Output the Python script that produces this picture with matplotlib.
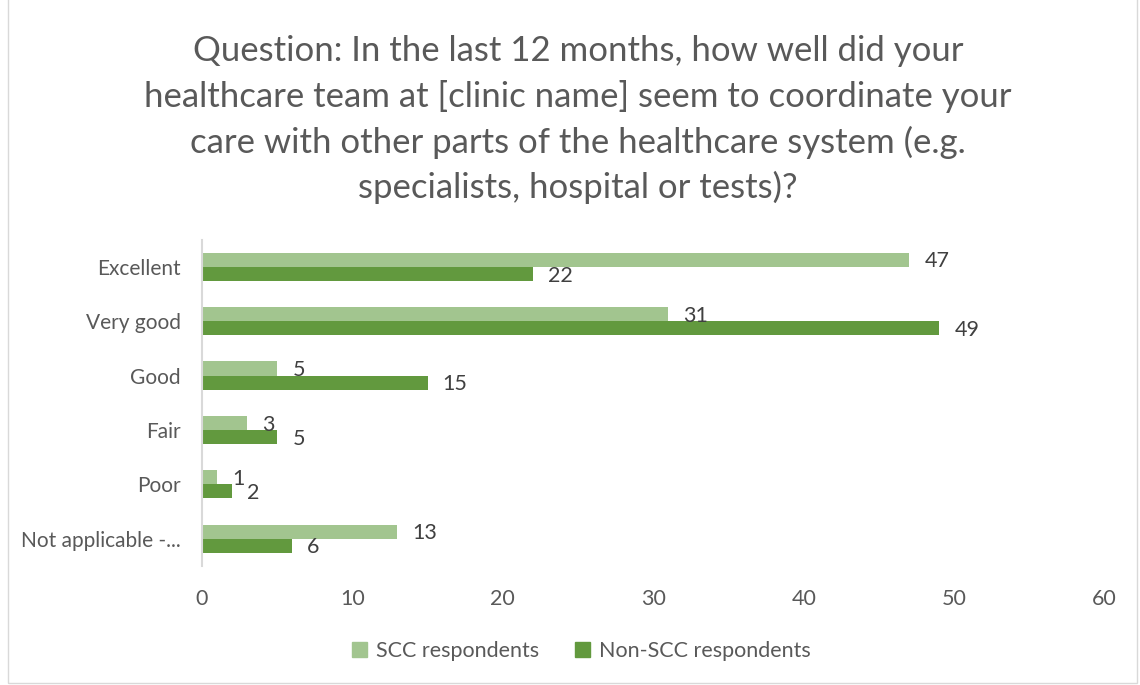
import matplotlib.pyplot as plt
from matplotlib.patches import Rectangle, Patch
import numpy as np

categories = ['Excellent', 'Very good', 'Good', 'Fair', 'Poor', 'Not applicable -...']
scc = [47, 31, 5, 3, 1, 13]
non_scc = [22, 49, 15, 5, 2, 6]
title = ('Question: In the last 12 months, how well did your\n'
         'healthcare team at [clinic name] seem to coordinate your\n'
         'care with other parts of the healthcare system (e.g.\n'
         'specialists, hospital or tests)?')

light = '#a2c58f'
dark = '#62993e'
txt = '#595959'

plt.rcParams['font.family'] = ['Lato', 'DejaVu Sans']

fig = plt.figure(figsize=(11.4, 6.85), dpi=100)
ax = fig.add_axes([0.177, 0.174, 0.792, 0.476])

y = np.arange(len(categories))
h = 0.26
ax.barh(y - h / 2, scc, height=h, color=light, label='SCC respondents')
ax.barh(y + h / 2, non_scc, height=h, color=dark, label='Non-SCC respondents')

for i in range(len(categories)):
    ax.annotate(str(scc[i]), (scc[i], y[i] - h / 2 + 0.03), xytext=(11, 0),
                textcoords='offset points', va='center', ha='left', fontsize=15.5, color='#404040')
    ax.annotate(str(non_scc[i]), (non_scc[i], y[i] + h / 2 + 0.03), xytext=(11, 0),
                textcoords='offset points', va='center', ha='left', fontsize=15.5, color='#404040')

ax.set_ylim(len(categories) - 0.5, -0.5)
ax.set_xlim(0, 60)
ax.set_xticks(range(0, 61, 10))
ax.set_yticks(y)
ax.set_yticklabels(categories)
ax.tick_params(axis='both', length=0, labelsize=15.5, labelcolor=txt)
ax.tick_params(axis='y', labelsize=15)
ax.tick_params(axis='x', pad=17)
ax.tick_params(axis='y', pad=15)
for s in ['top', 'right', 'bottom']:
    ax.spines[s].set_visible(False)
ax.spines['left'].set_color('#d9d9d9')
ax.spines['left'].set_linewidth(1.5)

fig.text(0.507, 0.949, title, ha='center', va='top', fontsize=25, color=txt, linespacing=1.47)

handles = [Patch(color=light, label='SCC respondents'), Patch(color=dark, label='Non-SCC respondents')]
fig.legend(handles=handles, loc='center', bbox_to_anchor=(0.51, 0.05), ncol=2, frameon=False,
           fontsize=15.5, labelcolor=txt, handlelength=0.7, handleheight=0.7, columnspacing=1.7, handletextpad=0.4)

fig.patches.append(Rectangle((0.007, 0.003), 0.99, 1.2, transform=fig.transFigure, fill=False,
                             edgecolor='#d9d9d9', linewidth=1))

fig.savefig('out.png', dpi=100)
